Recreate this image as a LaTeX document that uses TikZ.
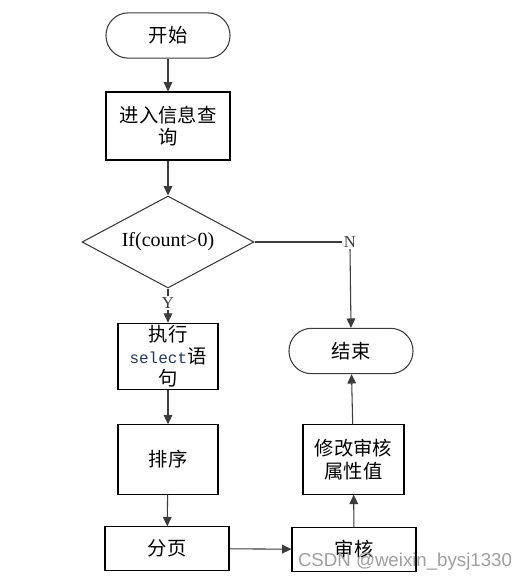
\documentclass[tikz,border=0pt]{standalone}
\usepackage{fontspec}
\setmainfont{Liberation Serif}
\newfontfamily\cjk{Noto Sans CJK SC}
\newfontfamily\monof{Liberation Mono}
\newfontfamily\wmfont{Liberation Sans}
\usetikzlibrary{shapes.geometric,arrows.meta}
\definecolor{lineg}{RGB}{60,60,60}
\definecolor{selblue}{RGB}{35,55,95}
\begin{document}
\begin{tikzpicture}[x=0.75pt,y=-0.75pt,
  box/.style={draw=black,line width=0.8pt,minimum width=93pt,minimum height=51pt,inner sep=0pt,align=center,font=\cjk\fontsize{14.5}{17}\selectfont},
  term/.style={draw=lineg,line width=0.8pt,rounded corners=16.8pt,minimum width=93pt,minimum height=34pt,inner sep=0pt,font=\cjk\fontsize{14.5}{17}\selectfont},
  conn/.style={draw=lineg,line width=0.8pt,-{Triangle[width=6.5pt,length=7pt]}},
  plain/.style={draw=lineg,line width=0.8pt},
  lab/.style={inner sep=1pt,font=\fontsize{12.5}{14}\selectfont,text=lineg}
]
\useasboundingbox (0,0) rectangle (530,582);
\fill[white] (0,0) rectangle (530,582);
\node[term] (start) at (168,35.5) {开始};
\node[box] (query) at (168,126) {进入信息查\\询};
\node[draw=lineg,line width=0.8pt,diamond,minimum width=129pt,minimum height=69pt,inner sep=0pt,aspect=1.87,font=\fontsize{15}{17}\selectfont] (dia) at (168,242) {If(count>0)};
\node[lab] (N) at (350,242) {N};
\node[lab] (Y) at (168,303) {Y};
\node[box,minimum width=75pt,minimum height=50pt,font=\cjk\fontsize{14.5}{16.5}\selectfont] (exec) at (168,356.5) {执行\\{\monof\color{selblue}\fontsize{12}{16.5}\selectfont select}语\\句};
\node[box,minimum width=75pt,minimum height=52pt] (sort) at (168,459.5) {排序};
\node[box,minimum height=32.5pt] (page) at (167,548.5) {分页};
\node[box,minimum height=32.5pt] (audit) at (354,549.5) {审核};
\node[box,minimum width=75.75pt,minimum height=52pt] (modify) at (353.5,459.5) {修改审核\\属性值};
\node[term] (end) at (351,351) {结束};
\draw[conn] (start) -- (query);
\draw[conn] (query) -- (dia.north);
\draw[plain] (dia.east) -- (N.west);
\draw[conn] (N.south) -- (end.north);
\draw[plain] (dia.south) -- (Y.north);
\draw[conn] (Y.south) -- (exec.north);
\draw[conn] (exec) -- (sort);
\draw[conn] (sort) -- (page);
\draw[conn] (page) -- (audit);
\draw[conn] (audit) -- (modify);
\draw[conn] (modify) -- (end);
\node[text=gray!75,font=\wmfont\fontsize{14}{16}\selectfont,inner sep=0pt] (wm) at (405,562) {CSDN @weixin\_bysj1330};
\end{tikzpicture}
\end{document}
